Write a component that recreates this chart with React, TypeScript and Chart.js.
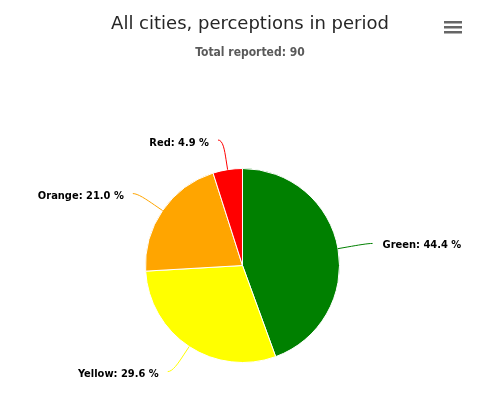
import React, { useEffect, useRef } from "react";
import { Chart, registerables } from "chart.js";
Chart.register(...registerables);

const titleText = "All cities, perceptions in period";
const subtitleText = "Total reported: 90";
const categories = ["Green", "Yellow", "Orange", "Red"];
const percents = [44.4, 29.6, 21.0, 4.9];
const colors = ["#008000", "#FFFF00", "#FFA500", "#FF0000"];

const W = 479;
const H = 397;

const overlay = {
  id: "overlay",
  afterDraw(chart: any) {
    const ctx = chart.ctx as CanvasRenderingContext2D;
    ctx.save();
    ctx.textAlign = "center";
    ctx.textBaseline = "alphabetic";
    ctx.fillStyle = "#262626";
    ctx.font = '18px "DejaVu Sans"';
    ctx.fillText(titleText, 250, 29);
    ctx.fillStyle = "#5a5a5a";
    ctx.font = 'bold 12px "DejaVu Sans Condensed", "DejaVu Sans"';
    ctx.fillText(subtitleText, 250, 56);
    // export menu icon
    ctx.fillStyle = "#666666";
    [21, 26, 31].forEach((y) => ctx.fillRect(444, y, 18, 2.5));

    const meta = chart.getDatasetMeta(0);
    const dist = 30;
    meta.data.forEach((arc: any, i: number) => {
      const p = arc.getProps(["x", "y", "startAngle", "endAngle", "outerRadius"], true);
      const cx = p.x, cy = p.y, r = p.outerRadius;
      const mid = (p.startAngle + p.endAngle) / 2;
      const cos = Math.cos(mid), sin = Math.sin(mid);
      const px = cx + r * cos, py = cy + r * sin;
      const bx = cx + (r + 10) * cos, by = cy + (r + 10) * sin;
      const R = r + dist;
      const ly = cy + R * sin;
      const right = cos >= 0;
      const dx = Math.sqrt(Math.max(R * R - (ly - cy) * (ly - cy), 0));
      const ex = right ? cx + dx + 5 : cx - dx - 5;
      ctx.strokeStyle = colors[i];
      ctx.lineWidth = 1;
      ctx.beginPath();
      ctx.moveTo(ex, ly);
      ctx.bezierCurveTo(ex + (right ? -5 : 5), ly, 2 * bx - px, 2 * by - py, bx, by);
      ctx.lineTo(px, py);
      ctx.stroke();
      ctx.fillStyle = "#000000";
      ctx.font = 'bold 11px "DejaVu Sans Condensed", "DejaVu Sans"';
      ctx.textBaseline = "middle";
      ctx.textAlign = right ? "left" : "right";
      const txt = `${categories[i]}: ${percents[i].toFixed(1)} %`;
      ctx.fillText(txt, right ? ex + 10 : ex - 9, ly + (right ? 2 : 3));
    });
    ctx.restore();
  },
};

export default function App() {
  const ref = useRef<HTMLCanvasElement>(null);
  useEffect(() => {
    if (!ref.current) return;
    const chart = new Chart(ref.current, {
      type: "pie",
      data: {
        labels: categories,
        datasets: [
          {
            data: percents,
            backgroundColor: colors,
            borderColor: "#ffffff",
            borderWidth: 1,
          },
        ],
      },
      options: {
        responsive: false,
        animation: false,
        layout: { padding: { left: 145, right: 139, top: 168, bottom: 34 } },
        plugins: {
          legend: { display: false },
          tooltip: { enabled: false },
          title: { display: false },
        },
      },
      plugins: [overlay],
    });
    return () => chart.destroy();
  }, []);
  return (
    <div style={{ position: "absolute", left: 0, top: 0, width: W, height: H, background: "#fff" }}>
      <canvas ref={ref} width={W} height={H} style={{ display: "block" }} />
    </div>
  );
}
